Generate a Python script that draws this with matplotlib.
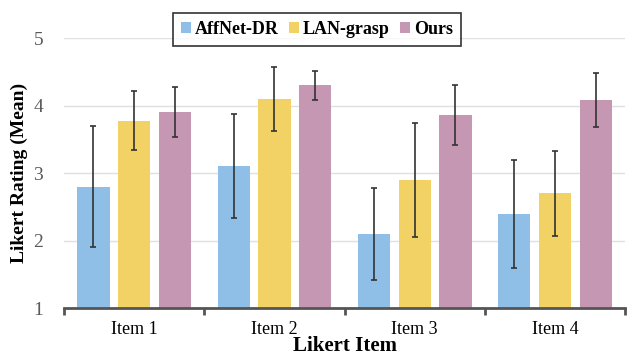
import numpy as np
import matplotlib.pyplot as plt
from matplotlib.ticker import FixedLocator

items = ["Item 1", "Item 2", "Item 3", "Item 4"]
methods = ["AffNet-DR", "LAN-grasp", "Ours"]
colors = ["#8fbfe6", "#f2d265", "#c597b3"]

means = {
    "AffNet-DR": [2.80, 3.10, 2.10, 2.40],
    "LAN-grasp": [3.78, 4.10, 2.90, 2.70],
    "Ours": [3.90, 4.30, 3.86, 4.08],
}
errs = {
    "AffNet-DR": [0.90, 0.77, 0.68, 0.80],
    "LAN-grasp": [0.44, 0.48, 0.85, 0.63],
    "Ours": [0.37, 0.21, 0.45, 0.40],
}

plt.rcParams['font.family'] = ['Liberation Serif', 'DejaVu Serif']

fig = plt.figure(figsize=(6.34, 3.60), dpi=100)
ax = fig.add_axes([0.101, 0.144, 0.885, 0.75])

x = np.arange(len(items))
width = 0.23
step = 0.29
for i, m in enumerate(methods):
    ax.bar(x + (i - 1) * step, means[m], width, bottom=0, color=colors[i],
           label=m, zorder=2)
    ax.errorbar(x + (i - 1) * step, means[m], yerr=errs[m], fmt='none',
                ecolor='#333333', elinewidth=1.2, capsize=2.5, capthick=1.2,
                zorder=3)

ax.set_ylim(1, 5)
ax.set_xlim(-0.5, 3.5)
ax.set_yticks([1, 2, 3, 4, 5])
ax.yaxis.grid(True, color='#e0e0e0', linewidth=1, zorder=0)
ax.set_axisbelow(True)
for s in ['top', 'right', 'left']:
    ax.spines[s].set_visible(False)
ax.spines['bottom'].set_color('#555555')
ax.spines['bottom'].set_linewidth(2)
ax.spines['bottom'].set_zorder(4)

ax.set_xticks(x)
ax.set_xticklabels(items, fontsize=13)
ax.tick_params(axis='x', which='major', length=0, pad=9)
ax.xaxis.set_minor_locator(FixedLocator([-0.5, 0.5, 1.5, 2.5, 3.5]))
ax.tick_params(axis='x', which='minor', length=5, width=2, color='#555555',
               direction='out')
ax.tick_params(axis='y', length=0, labelsize=14, labelcolor='#595959', pad=15)

ax.set_xlabel("Likert Item", fontsize=15, fontweight='bold', labelpad=-1)
ax.set_ylabel("Likert Rating (Mean)", fontsize=14, fontweight='bold', labelpad=4)

leg = fig.legend(loc='upper center', bbox_to_anchor=(0.5, 0.99), ncol=3,
                 frameon=True, fancybox=False, edgecolor='black',
                 prop={'weight': 'bold', 'size': 13}, handlelength=0.55,
                 handleheight=0.55, handletextpad=0.2, columnspacing=0.6,
                 borderpad=0.45)
leg.get_frame().set_linewidth(1.2)

fig.savefig("out.png", dpi=100)
